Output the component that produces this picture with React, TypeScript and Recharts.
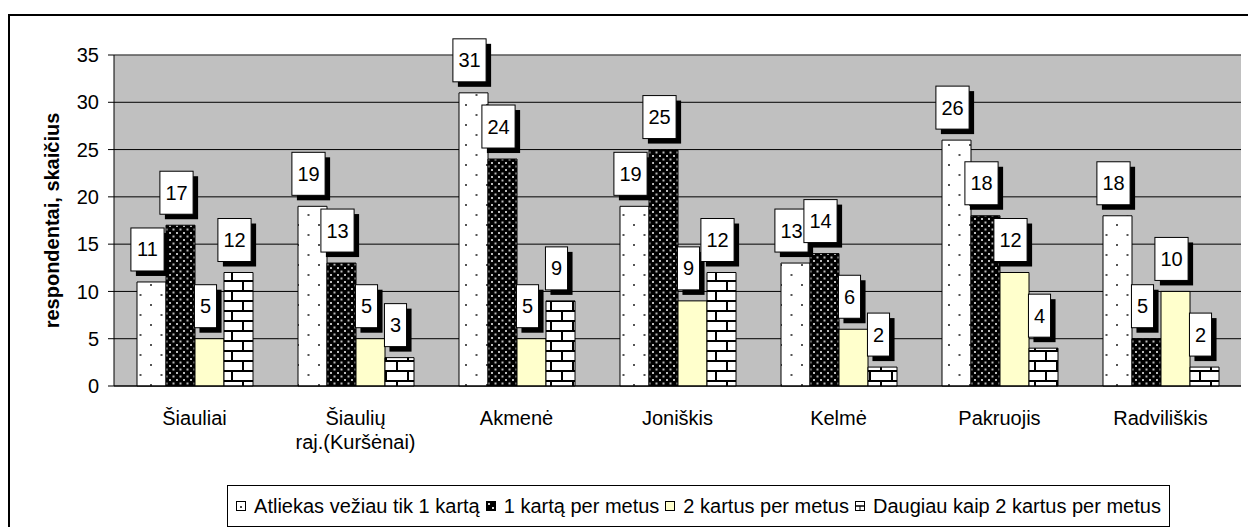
import React from 'react';
import { BarChart, Bar, XAxis, YAxis, CartesianGrid, Legend, LabelList, Label, ReferenceLine } from 'recharts';

const FONT = '"Liberation Sans", Arial, sans-serif';

// rajonai
const categories = ['Šiauliai', 'Šiaulių raj.(Kuršėnai)', 'Akmenė', 'Joniškis', 'Kelmė', 'Pakruojis', 'Radviliškis'];
const onceValues = [11, 19, 31, 19, 13, 26, 18];
const oncePerYearValues = [17, 13, 24, 25, 14, 18, 5];
const twicePerYearValues = [5, 5, 5, 9, 6, 12, 10];
const moreThanTwiceValues = [12, 3, 9, 12, 2, 4, 2];
const yTicks = [0, 5, 10, 15, 20, 25, 30, 35];
const edgeTicks = [0, 1, 2, 3, 4, 5, 6, 7];

const series = [
  { key: 'once', name: 'Atliekas vežiau tik 1 kartą', fill: 'url(#dotsSparse)' },
  { key: 'oncePerYear', name: '1 kartą per metus', fill: 'url(#dotsDense)' },
  { key: 'twicePerYear', name: '2 kartus per metus', fill: '#FFFFCC' },
  { key: 'moreThanTwice', name: 'Daugiau kaip 2 kartus per metus', fill: 'url(#bricks)' },
];

const data = categories.map((category, i) => ({
  category,
  once: onceValues[i],
  oncePerYear: oncePerYearValues[i],
  twicePerYear: twicePerYearValues[i],
  moreThanTwice: moreThanTwiceValues[i],
}));

// baltas langelis su juodu šešėliu virš stulpelio
const BoxLabel = (props: any) => {
  const vb = props.viewBox ?? props;
  const x = props.x ?? vb.x;
  const y = props.y ?? vb.y;
  const width = props.width ?? vb.width;
  const text = String(props.value);
  const w = text.length * 11.1 + 11;
  const h = 43;
  const cx = x + width / 2 - 4;
  const top = y - 54;
  return (
    <g>
      <rect x={cx - w / 2 + 5} y={top + 5} width={w} height={h} fill="#000" />
      <rect x={cx - w / 2} y={top} width={w} height={h} fill="#fff" stroke="#000" strokeWidth={1} />
      <text x={cx} y={top + h / 2 + 7} textAnchor="middle" fontSize={20} fontFamily={FONT} fill="#000">
        {text}
      </text>
    </g>
  );
};

const CategoryTick = (props: any) => {
  const { x, y, payload } = props;
  const value: string = payload.value;
  const lines = value.length > 15 ? [value.slice(0, value.indexOf(' ')), value.slice(value.indexOf(' ') + 1)] : [value];
  return (
    <text x={x} y={y} textAnchor="middle" fontSize={20} fontFamily={FONT} fill="#000">
      {lines.map((line, i) => (
        <tspan key={i} x={x} dy={i === 0 ? 31 : 24}>
          {line}
        </tspan>
      ))}
    </text>
  );
};

const LegendIcon = ({ k }: { k: string }) => {
  if (k === 'once')
    return (
      <svg width={10} height={10}>
        <rect x={0.5} y={0.5} width={9} height={9} fill="#fff" stroke="#000" />
        <rect x={4} y={5} width={2} height={2} fill="#444" />
      </svg>
    );
  if (k === 'oncePerYear')
    return (
      <svg width={10} height={10}>
        <rect x={0} y={0} width={10} height={10} fill="#000" />
        <rect x={2} y={2} width={2} height={2} fill="#ddd" />
        <rect x={6} y={6} width={2} height={2} fill="#ddd" />
      </svg>
    );
  if (k === 'twicePerYear')
    return (
      <svg width={10} height={10}>
        <rect x={0.5} y={0.5} width={9} height={9} fill="#FFFFCC" stroke="#000" />
      </svg>
    );
  return (
    <svg width={10} height={10}>
      <rect x={0.5} y={0.5} width={9} height={9} fill="#fff" stroke="#000" />
      <line x1={0} y1={5} x2={10} y2={5} stroke="#000" strokeWidth={1.5} />
      <line x1={5} y1={5} x2={5} y2={10} stroke="#000" />
    </svg>
  );
};

const renderLegend = () => (
  <div
    style={{
      boxSizing: 'border-box',
      width: '100%',
      height: '100%',
      border: '1px solid #000',
      display: 'flex',
      alignItems: 'center',
      justifyContent: 'center',
      fontFamily: FONT,
      fontSize: 20,
      color: '#000',
      whiteSpace: 'nowrap',
    }}
  >
    {series.map((s, i) => (
      <span
        key={s.key}
        style={{ display: 'inline-flex', alignItems: 'center', marginRight: i === series.length - 1 ? 0 : 6 }}
      >
        <LegendIcon k={s.key} />
        <span style={{ marginLeft: 8 }}>{s.name}</span>
      </span>
    ))}
  </div>
);

export default function App() {
  return (
    <div style={{ position: 'absolute', left: 0, top: 0, width: 1248, height: 527, overflow: 'hidden', background: '#fff' }}>
      <div
        style={{
          position: 'absolute',
          left: 8,
          top: 14,
          width: 1300,
          height: 600,
          border: '2px solid #000',
        }}
      />
      <div style={{ position: 'absolute', left: 0, top: 0 }}>
        <BarChart
          width={1248}
          height={527}
          data={data}
          margin={{ top: 55, right: 7, left: 20, bottom: 81 }}
          barSize={29}
          barGap={0}
        >
          <defs>
            <pattern id="dotsSparse" patternUnits="userSpaceOnUse" width={21} height={20}>
              <rect width={21} height={20} fill="#fff" />
              <rect x={3} y={4} width={2} height={2} fill="#555" />
              <rect x={13.5} y={14} width={2} height={2} fill="#555" />
            </pattern>
            <pattern id="dotsDense" patternUnits="userSpaceOnUse" width={7} height={7}>
              <rect width={7} height={7} fill="#000" />
              <rect x={1} y={1} width={2} height={2} fill="#bbb" />
              <rect x={4.5} y={4.5} width={2} height={2} fill="#bbb" />
            </pattern>
            <pattern id="bricks" patternUnits="userSpaceOnUse" width={22} height={20}>
              <rect width={22} height={20} fill="#fff" />
              <rect x={0} y={0} width={22} height={2} fill="#000" />
              <rect x={0} y={10} width={22} height={2} fill="#000" />
              <rect x={0} y={0} width={2} height={10} fill="#000" />
              <rect x={11} y={10} width={2} height={10} fill="#000" />
            </pattern>
          </defs>
          <CartesianGrid vertical={false} stroke="#000" fill="#C0C0C0" fillOpacity={1} />
          <XAxis
            xAxisId={0}
            type="number"
            domain={[0, 7]}
            allowDataOverflow
            ticks={edgeTicks}
            height={0}
            axisLine={false}
            tickLine={{ stroke: '#000' }}
            tickSize={7}
            tickFormatter={() => ''}
          />
          <XAxis
            xAxisId="cat"
            dataKey="category"
            height={60}
            axisLine={{ stroke: '#000' }}
            tickLine={false}
            tick={<CategoryTick />}
            interval={0}
          />
          <YAxis
            domain={[0, 35]}
            ticks={yTicks}
            width={94}
            axisLine={{ stroke: '#000' }}
            tickLine={{ stroke: '#000' }}
            tickSize={6}
            tickMargin={9}
            tick={{ fontSize: 20, fontFamily: FONT, fill: '#000' }}
            interval={0}
          >
            <Label
              content={(props: any) => {
                const vb = props.viewBox;
                const cx = vb.x + 32;
                const cy = vb.y + vb.height / 2;
                return (
                  <text
                    x={cx}
                    y={cy}
                    transform={`rotate(-90 ${cx} ${cy})`}
                    textAnchor="middle"
                    dominantBaseline="central"
                    fontSize={20}
                    fontWeight="bold"
                    fontFamily={FONT}
                    fill="#000"
                  >
                    respondentai, skaičius
                  </text>
                );
              }}
            />
          </YAxis>
          <ReferenceLine y={35} stroke="#808080" xAxisId={0} />
          <ReferenceLine x={7} stroke="#808080" xAxisId={0} />
          <Legend
            layout="horizontal"
            verticalAlign="middle"
            align="center"
            wrapperStyle={{ left: 227, top: 485, width: 943, height: 42 }}
            content={renderLegend}
          />
          {series.map((s) => (
            <Bar
              key={s.key}
              xAxisId="cat"
              dataKey={s.key}
              name={s.name}
              fill={s.fill}
              stroke="#000"
              strokeWidth={1}
              isAnimationActive={false}
            >
              <LabelList dataKey={s.key} content={<BoxLabel />} />
            </Bar>
          ))}
        </BarChart>
      </div>
    </div>
  );
}
